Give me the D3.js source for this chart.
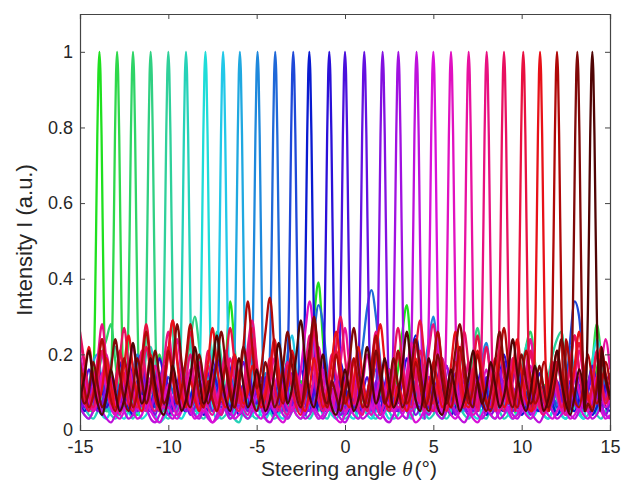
<!DOCTYPE html>
<html>
<head>
<meta charset="utf-8">
<script src="https://cdn.jsdelivr.net/npm/d3@7"></script>
<style>
    body { margin: 0; background: #fff; }
    text { font-family: "Liberation Sans", Arial, sans-serif; fill: #262626; }
</style>
</head>
<body>
<div id="chart"></div>
<script>

// peak position of each steered beam (deg) and its line colour
const peakAngles = [-13.9, -12.9, -12, -11, -10, -9, -7.9, -6.9, -5.95, -4.95, -3.95, -2.93, -2.02, -0.89, 0,
    1.09, 2.13, 3.02, 4.05, 5, 6, 7, 8.02, 9, 10.09, 11.04, 12, 13.15, 14];
const peakColors = ["#1fe01f", "#2ed84a", "#2ed466", "#30d082", "#2fd09a", "#26d2b8", "#1edcd8", "#22c8e8",
    "#1fa8e0", "#1e88dc", "#1f68d8", "#1e48d8", "#0a1ad0", "#2a10d8", "#4a10dc", "#6410e0", "#8210e0",
    "#a010e0", "#be10dc", "#d810d8", "#e010c0", "#e810a0", "#e81080", "#e81060", "#e81040", "#e81018",
    "#b00808", "#800808", "#500404"];

// main lobe shape, offset from peak (deg) -> normalised intensity
const lobeOffsets = [-0.45, -0.35, -0.25, -0.18, -0.12, -0.06, 0, 0.06, 0.12, 0.18, 0.25, 0.35, 0.45];
const lobeValues = [0.05, 0.12, 0.32, 0.56, 0.78, 0.94, 1, 0.94, 0.78, 0.56, 0.32, 0.12, 0.05];

// background (side lobe) level of each beam, sampled every 0.25 deg from -15 to 15
const floorStart = -15, floorStep = 0.25;
const floor00 = [.14,.10,.06,.05,.08,.06,.04,.07,.09,.05,.06, .08,.05,.04,.07,.10,.06,.05,.09,.12,.07,.05, .06,.10,.08,.05,.07,.11,.09,.06,.05,.08,.12, .18,.34,.22,.09,.06,.08,.05,.07,.10,.06,.05, .08,.11,.07,.05,.06,.09,.13,.10,.18,.30,.39, .24,.10,.06,.05,.08,.06,.04,.07,.09,.06,.05, .08,.06,.10,.07,.05,.09,.16,.26,.33,.20,.08, .05,.07,.10,.06,.05,.08,.06,.04,.07,.09,.06, .05,.08,.11,.07,.05,.06,.09,.07,.05,.08,.06, .04,.07,.10,.06,.05,.08,.12,.09,.06,.05,.07, .09,.06,.05,.08,.11,.07,.10,.16,.20,.14,.10];
const floor01 = [.12,.08,.05,.07,.10,.06,.05,.08,.06,.09,.07, .05,.06,.10,.08,.05,.07,.12,.20,.14,.07,.05, .08,.06,.05,.09,.07,.05,.06,.10,.08,.05,.07, .09,.06,.05,.08,.12,.07,.05,.06,.09,.06,.05, .07,.10,.06,.05,.08,.06,.11,.08,.05,.07,.09, .06,.05,.08,.12,.07,.05,.06,.09,.14,.10,.06, .05,.07,.09,.06,.05,.08,.10,.07,.05,.06,.09, .07,.05,.08,.11,.06,.05,.07,.10,.08,.05,.06, .09,.07,.05,.08,.13,.09,.06,.05,.07,.10,.06, .05,.08,.06,.05,.09,.12,.08,.05,.07,.06,.05, .08,.10,.07,.05,.09,.12,.18,.28,.20,.12,.08];
const floor02 = [.10,.07,.05,.09,.14,.20,.24,.28,.18,.09,.06, .05,.08,.06,.05,.07,.10,.08,.05,.06,.09,.07, .05,.08,.12,.09,.06,.05,.07,.06,.05,.08,.10, .07,.05,.06,.09,.08,.05,.07,.11,.08,.06,.05, .08,.06,.05,.07,.10,.07,.05,.06,.09,.12,.08, .05,.07,.06,.05,.08,.11,.07,.05,.06,.09,.07, .05,.08,.10,.06,.05,.07,.09,.06,.05,.08,.12, .09,.06,.05,.07,.10,.08,.05,.06,.09,.07,.05, .08,.11,.07,.05,.06,.10,.08,.05,.07,.09,.06, .05,.14,.22,.26,.18,.09,.06,.05,.08,.07,.05, .06,.09,.07,.05,.08,.10,.07,.05,.09,.12,.08];
const floor03 = [.08,.06,.05,.07,.10,.08,.05,.06,.09,.07,.05, .08,.12,.09,.06,.05,.07,.10,.06,.05,.08,.06, .05,.09,.16,.24,.30,.22,.12,.07,.05,.06,.09, .07,.05,.08,.06,.05,.10,.08,.05,.07,.09,.06, .05,.08,.11,.07,.05,.06,.09,.07,.05,.08,.10, .06,.05,.07,.09,.06,.05,.08,.12,.08,.05,.07, .06,.05,.09,.07,.05,.08,.10,.07,.05,.06,.09, .07,.05,.08,.06,.05,.07,.10,.08,.06,.05,.08, .12,.20,.27,.18,.09,.06,.05,.07,.10,.08,.05, .06,.09,.07,.05,.08,.06,.05,.07,.11,.08,.06, .05,.08,.10,.07,.05,.06,.09,.07,.05,.08,.10];
const floor04 = [.11,.08,.05,.07,.09,.06,.12,.18,.22,.15,.08, .05,.07,.10,.06,.05,.08,.06,.05,.09,.07,.05, .06,.08,.11,.07,.05,.06,.09,.14,.20,.26,.19, .10,.06,.05,.08,.07,.05,.06,.10,.08,.05,.07, .09,.06,.05,.08,.12,.08,.05,.06,.09,.07,.05, .08,.06,.05,.07,.10,.07,.05,.08,.11,.08,.06, .05,.07,.09,.06,.05,.08,.06,.05,.09,.12,.08, .05,.06,.10,.07,.05,.08,.09,.06,.05,.07,.11, .08,.05,.06,.09,.07,.05,.08,.10,.07,.05,.06, .09,.07,.05,.08,.06,.05,.10,.14,.20,.24,.26, .17,.09,.06,.05,.08,.07,.05,.06,.10,.08,.06];
const floor05 = [.09,.06,.04,.03,.05,.08,.06,.04,.03,.05,.07, .05,.03,.06,.12,.20,.22,.14,.06,.04,.03,.05, .07,.04,.03,.05,.06,.04,.03,.05,.08,.05,.03, .04,.06,.03,.02,.05,.07,.04,.03,.05,.08,.05, .03,.04,.06,.03,.05,.09,.06,.04,.03,.05,.07, .04,.03,.06,.08,.05,.03,.04,.06,.03,.05,.07, .04,.03,.05,.08,.05,.03,.04,.07,.05,.03,.06, .08,.05,.03,.04,.06,.04,.03,.05,.09,.06,.04, .03,.05,.07,.04,.03,.06,.08,.05,.03,.04,.06, .10,.16,.22,.24,.15,.07,.04,.03,.05,.07,.04, .03,.05,.08,.05,.03,.04,.06,.04,.03,.05,.07];
const floor06 = [.06,.04,.03,.05,.07,.04,.03,.05,.06,.04,.03, .05,.08,.05,.03,.04,.06,.04,.02,.03,.05,.07, .04,.03,.05,.06,.04,.03,.05,.07,.04,.03,.04, .06,.03,.05,.08,.05,.03,.04,.06,.04,.03,.05, .07,.04,.03,.05,.06,.04,.03,.05,.08,.05,.03, .04,.06,.04,.03,.05,.07,.04,.03,.05,.06,.04, .03,.05,.08,.05,.03,.04,.06,.04,.03,.05,.07, .04,.03,.05,.06,.04,.03,.05,.12,.18,.22,.14, .06,.04,.03,.05,.07,.04,.03,.05,.06,.04,.03, .05,.08,.05,.03,.04,.06,.04,.03,.05,.07,.04, .03,.05,.06,.04,.03,.10,.18,.24,.20,.12,.06];
const floor07 = [.10,.07,.05,.08,.06,.05,.09,.07,.05,.06,.10, .08,.05,.07,.09,.06,.05,.08,.11,.07,.05,.06, .09,.07,.05,.08,.06,.05,.07,.10,.08,.05,.06, .09,.07,.05,.08,.12,.08,.05,.07,.06,.05,.09, .07,.05,.12,.20,.25,.16,.08,.05,.06,.09,.07, .05,.08,.06,.05,.07,.10,.08,.05,.06,.09,.07, .05,.08,.11,.07,.05,.06,.09,.07,.05,.14,.22, .17,.08,.05,.07,.10,.08,.05,.06,.09,.07,.05, .08,.06,.05,.07,.11,.08,.05,.06,.09,.07,.05, .08,.10,.07,.05,.06,.09,.07,.05,.08,.06,.05, .07,.10,.08,.05,.06,.09,.07,.05,.08,.11,.08];
const floor08 = [.08,.06,.12,.18,.20,.12,.07,.05,.08,.06,.05, .07,.10,.07,.05,.06,.09,.07,.05,.08,.06,.05, .09,.07,.05,.08,.11,.07,.05,.06,.09,.07,.05, .08,.06,.05,.07,.10,.07,.05,.08,.06,.05,.09, .07,.05,.06,.10,.08,.05,.07,.09,.06,.05,.08, .11,.07,.05,.06,.09,.07,.05,.08,.06,.05,.07, .10,.07,.05,.08,.06,.05,.09,.07,.05,.06,.10, .08,.05,.07,.09,.06,.05,.08,.12,.08,.05,.06, .09,.07,.05,.08,.06,.05,.07,.10,.07,.05,.08, .06,.05,.09,.07,.05,.06,.10,.08,.05,.07,.14, .20,.22,.14,.08,.05,.07,.09,.06,.05,.08,.10];
const floor09 = [.12,.09,.06,.10,.14,.11,.07,.09,.13,.10,.07, .12,.16,.20,.14,.09,.11,.08,.12,.15,.10,.07, .09,.13,.10,.07,.11,.15,.12,.08,.10,.13,.09, .07,.11,.14,.10,.08,.12,.09,.07,.11,.15,.10, .08,.12,.09,.07,.10,.13,.09,.08,.12,.10,.07, .11,.14,.10,.08,.12,.09,.07,.10,.13,.10,.08, .12,.16,.11,.08,.10,.13,.09,.07,.11,.14,.10, .08,.16,.24,.30,.20,.11,.08,.12,.09,.07,.10, .14,.10,.08,.18,.23,.15,.09,.07,.11,.08,.07, .10,.13,.09,.08,.12,.10,.07,.11,.14,.10,.08, .12,.09,.07,.10,.13,.09,.08,.12,.15,.11,.09];
const floor10 = [.10,.08,.12,.09,.07,.11,.14,.10,.08,.12,.09, .07,.10,.13,.09,.08,.12,.10,.07,.11,.14,.10, .08,.12,.09,.07,.10,.13,.09,.08,.12,.10,.07, .11,.14,.10,.08,.12,.09,.07,.10,.13,.09,.08, .12,.10,.07,.11,.14,.10,.08,.12,.18,.26,.33, .28,.16,.10,.08,.12,.09,.07,.10,.14,.22,.32, .37,.30,.18,.10,.08,.12,.09,.07,.11,.14,.10, .08,.12,.09,.07,.10,.13,.09,.08,.12,.10,.07, .11,.14,.10,.08,.12,.09,.07,.10,.13,.09,.08, .12,.10,.07,.11,.14,.10,.08,.12,.09,.07,.10, .13,.09,.08,.12,.10,.07,.11,.14,.10,.08,.12];
const floor11 = [.09,.12,.08,.06,.10,.13,.09,.07,.11,.08,.06, .09,.13,.18,.20,.12,.08,.06,.10,.13,.09,.07, .11,.08,.06,.09,.12,.08,.07,.10,.13,.09,.06, .08,.11,.08,.06,.10,.13,.09,.07,.11,.08,.06, .09,.12,.08,.07,.10,.13,.09,.06,.08,.11,.08, .06,.10,.13,.09,.07,.11,.08,.06,.09,.12,.08, .07,.10,.13,.09,.06,.08,.11,.08,.06,.10,.13, .09,.07,.11,.08,.06,.09,.12,.08,.07,.10,.13, .09,.06,.08,.11,.08,.06,.10,.13,.09,.07,.11, .08,.06,.09,.12,.08,.07,.10,.13,.09,.06,.08, .11,.24,.34,.30,.16,.08,.06,.10,.13,.09,.07];
const floor12 = [.08,.05,.07,.10,.06,.04,.08,.11,.07,.05,.09, .06,.04,.07,.10,.06,.05,.08,.11,.07,.04,.06, .09,.06,.05,.08,.12,.07,.04,.06,.09,.06,.05, .08,.11,.07,.04,.06,.09,.06,.05,.08,.12,.07, .04,.06,.09,.06,.05,.08,.11,.07,.04,.06,.09, .06,.05,.08,.12,.07,.04,.06,.09,.06,.05,.08, .11,.07,.04,.06,.09,.06,.05,.08,.12,.20,.25, .18,.09,.06,.05,.08,.11,.07,.04,.06,.09,.06, .05,.08,.12,.07,.04,.06,.09,.06,.05,.08,.11, .07,.04,.06,.09,.06,.05,.08,.12,.07,.04,.06, .09,.06,.05,.08,.11,.07,.04,.06,.09,.06,.05];
const floor13 = [.14,.09,.07,.12,.17,.11,.06,.09,.13,.18,.12, .08,.06,.10,.15,.11,.07,.12,.19,.14,.08,.06, .09,.14,.10,.07,.13,.09,.06,.11,.16,.12,.07, .10,.15,.20,.13,.08,.06,.11,.09,.07,.12,.17, .12,.08,.13,.09,.06,.10,.16,.12,.07,.11,.14, .09,.06,.08,.13,.18,.12,.07,.10,.15,.10,.07, .12,.09,.06,.11,.16,.11,.08,.13,.19,.13,.08, .06,.10,.14,.09,.07,.12,.17,.11,.07,.09,.13, .10,.07,.12,.16,.11,.06,.09,.14,.20,.14,.08, .07,.11,.09,.06,.10,.15,.11,.08,.13,.18,.12, .07,.10,.14,.09,.06,.11,.16,.12,.08,.12,.15];
const floor14 = [.07,.11,.16,.12,.08,.06,.10,.14,.09,.07,.12, .18,.13,.08,.11,.07,.05,.09,.13,.17,.11,.07, .10,.15,.11,.06,.08,.12,.09,.07,.13,.19,.14, .09,.06,.10,.08,.12,.16,.11,.07,.09,.14,.10, .06,.08,.13,.18,.12,.08,.11,.07,.05,.10,.15, .11,.07,.12,.09,.06,.11,.17,.12,.08,.10,.14, .09,.06,.08,.12,.16,.11,.07,.13,.10,.07,.11, .15,.10,.06,.09,.14,.19,.13,.08,.11,.08,.06, .10,.15,.11,.07,.12,.17,.12,.08,.06,.09,.13, .18,.12,.07,.10,.14,.09,.06,.11,.16,.11,.07, .09,.13,.10,.06,.08,.12,.17,.12,.08,.10,.13];
const floor15 = [.10,.06,.09,.14,.10,.07,.12,.08,.05,.09,.13, .09,.06,.11,.16,.11,.07,.10,.14,.09,.06,.08, .12,.17,.12,.07,.09,.06,.10,.15,.10,.07,.12, .08,.05,.09,.13,.18,.12,.07,.10,.14,.09,.06, .11,.08,.06,.10,.15,.11,.07,.12,.17,.12,.08, .06,.09,.13,.09,.06,.11,.16,.11,.07,.09,.13, .19,.13,.08,.10,.07,.05,.09,.14,.10,.07,.12, .16,.11,.07,.09,.13,.09,.06,.11,.15,.10,.07, .12,.08,.05,.09,.14,.10,.07,.12,.18,.12,.08, .06,.10,.14,.10,.07,.11,.08,.05,.09,.13,.09, .06,.11,.16,.11,.07,.10,.14,.09,.06,.09,.12];
const floor16 = [.05,.08,.12,.08,.05,.07,.11,.07,.04,.06,.10, .14,.09,.05,.07,.10,.07,.04,.08,.12,.08,.05, .07,.11,.07,.04,.06,.09,.13,.09,.05,.07,.10, .07,.04,.08,.12,.08,.05,.07,.11,.07,.04,.06, .10,.14,.09,.05,.07,.10,.07,.04,.08,.12,.08, .05,.07,.11,.07,.04,.06,.09,.13,.09,.05,.07, .10,.07,.04,.08,.12,.08,.05,.07,.11,.07,.04, .06,.10,.14,.09,.05,.07,.10,.07,.04,.08,.12, .08,.05,.07,.11,.07,.04,.06,.09,.13,.09,.05, .07,.10,.07,.04,.08,.12,.08,.05,.07,.11,.07, .04,.06,.10,.14,.09,.05,.07,.10,.07,.04,.08];
const floor17 = [.09,.13,.08,.05,.07,.12,.16,.10,.06,.08,.11, .07,.05,.09,.14,.09,.06,.10,.15,.10,.06,.08, .12,.08,.05,.07,.11,.17,.11,.07,.09,.06,.04, .08,.13,.09,.06,.10,.14,.09,.05,.07,.11,.07, .05,.09,.15,.10,.06,.08,.12,.08,.05,.07,.11, .16,.11,.07,.09,.06,.04,.08,.13,.09,.06,.10, .14,.09,.05,.07,.12,.08,.05,.09,.15,.10,.06, .08,.11,.07,.05,.08,.13,.17,.11,.07,.09,.06, .04,.08,.12,.08,.05,.07,.11,.16,.10,.06,.08, .12,.08,.05,.09,.14,.09,.06,.10,.15,.10,.06, .08,.11,.07,.05,.07,.12,.16,.10,.07,.09,.12];
const floor18 = [.06,.04,.03,.05,.08,.05,.03,.02,.04,.07,.05, .03,.04,.06,.09,.06,.03,.02,.04,.06,.04,.03, .05,.08,.12,.07,.04,.03,.05,.03,.02,.04,.07, .05,.03,.04,.06,.04,.03,.05,.09,.06,.03,.02, .04,.06,.04,.03,.05,.07,.05,.03,.04,.06,.04, .03,.05,.08,.05,.03,.02,.04,.07,.05,.03,.04, .06,.10,.06,.03,.02,.04,.06,.04,.03,.05,.08, .05,.03,.04,.06,.04,.03,.05,.07,.05,.03,.02, .04,.06,.04,.03,.05,.09,.06,.03,.04,.06,.04, .03,.05,.08,.05,.03,.02,.04,.07,.05,.03,.04, .06,.04,.03,.05,.08,.05,.03,.04,.06,.04,.03];
const floor19 = [.10,.07,.05,.12,.18,.20,.12,.06,.04,.03,.05, .08,.05,.03,.04,.07,.05,.03,.02,.04,.06,.04, .03,.05,.08,.05,.03,.04,.06,.04,.02,.03,.05, .07,.05,.03,.04,.06,.09,.06,.04,.03,.05,.08, .05,.03,.02,.04,.06,.04,.03,.05,.08,.05,.03, .04,.07,.05,.03,.02,.04,.06,.04,.03,.05,.09, .06,.04,.03,.05,.07,.05,.03,.04,.06,.04,.02, .03,.05,.08,.05,.03,.04,.06,.04,.03,.05,.07, .05,.03,.02,.04,.06,.04,.03,.05,.08,.05,.03, .04,.06,.04,.03,.05,.09,.06,.04,.03,.05,.07, .05,.03,.04,.06,.04,.03,.05,.08,.05,.03,.04];
const floor20 = [.20,.14,.08,.05,.09,.15,.11,.06,.04,.08,.13, .17,.11,.06,.05,.09,.14,.10,.06,.08,.12,.07, .04,.06,.11,.16,.10,.06,.05,.09,.13,.08,.05, .07,.12,.17,.11,.06,.04,.08,.13,.09,.05,.07, .11,.15,.10,.06,.05,.09,.16,.26,.34,.24,.12, .07,.05,.08,.13,.09,.05,.07,.12,.17,.11,.06, .04,.08,.14,.10,.06,.05,.09,.13,.08,.05,.07, .11,.16,.10,.06,.05,.09,.14,.10,.06,.08,.12, .07,.04,.06,.11,.16,.10,.06,.05,.09,.13,.08, .05,.07,.12,.17,.11,.06,.04,.08,.13,.09,.05, .07,.11,.15,.10,.06,.05,.09,.14,.10,.06,.08];
const floor21 = [.24,.17,.09,.05,.08,.14,.20,.13,.07,.04,.09, .15,.22,.14,.07,.05,.10,.17,.11,.06,.09,.16, .24,.15,.08,.05,.11,.18,.12,.06,.04,.08,.14, .21,.14,.07,.05,.10,.16,.24,.15,.08,.06,.12, .19,.12,.06,.04,.09,.15,.10,.05,.08,.14,.22, .14,.07,.05,.11,.18,.27,.17,.09,.06,.12,.20, .13,.07,.04,.09,.16,.11,.06,.08,.15,.23,.15, .08,.05,.10,.17,.26,.16,.08,.06,.12,.19,.12, .06,.04,.09,.15,.22,.14,.07,.05,.11,.17,.11, .06,.09,.16,.24,.15,.08,.05,.10,.18,.12,.06, .04,.08,.14,.21,.14,.07,.05,.11,.17,.24,.16];
const floor22 = [.16,.10,.06,.11,.19,.28,.18,.09,.05,.08,.15, .10,.06,.12,.21,.14,.07,.05,.10,.18,.26,.16, .08,.06,.13,.20,.12,.06,.09,.17,.11,.06,.04, .10,.19,.13,.07,.11,.22,.29,.18,.09,.06,.12, .08,.05,.10,.18,.12,.06,.09,.16,.25,.16,.08, .05,.11,.20,.14,.07,.12,.19,.12,.06,.04,.09, .17,.26,.17,.08,.06,.13,.09,.05,.10,.19,.13, .07,.11,.21,.28,.18,.09,.06,.12,.08,.05,.10, .18,.12,.06,.09,.16,.23,.15,.08,.05,.11,.19, .13,.07,.12,.20,.13,.06,.04,.09,.17,.11,.06, .10,.18,.25,.16,.08,.06,.12,.20,.13,.07,.10];
const floor23 = [.26,.18,.10,.06,.12,.21,.14,.07,.10,.19,.27, .17,.09,.06,.13,.22,.15,.08,.05,.11,.20,.29, .19,.10,.07,.14,.09,.05,.12,.21,.14,.07,.11, .20,.13,.07,.05,.10,.18,.27,.17,.09,.06,.13, .23,.15,.08,.12,.20,.13,.06,.09,.17,.26,.17, .09,.06,.13,.22,.30,.19,.10,.07,.14,.09,.05, .11,.20,.13,.07,.10,.18,.27,.18,.09,.06,.12, .21,.14,.07,.05,.11,.19,.12,.06,.10,.18,.26, .17,.09,.06,.13,.22,.14,.07,.11,.20,.29,.19, .10,.07,.13,.21,.14,.07,.05,.10,.18,.12,.06, .09,.17,.25,.16,.08,.06,.12,.21,.14,.08,.12];
const floor24 = [.14,.08,.05,.10,.17,.24,.15,.08,.12,.21,.14, .07,.05,.11,.19,.28,.18,.09,.06,.13,.22,.14, .07,.10,.18,.26,.17,.09,.06,.12,.08,.05,.10, .18,.27,.18,.09,.06,.13,.22,.14,.07,.11,.19, .12,.06,.09,.17,.11,.06,.04,.10,.18,.28,.18, .09,.06,.13,.21,.14,.07,.10,.18,.12,.06,.09, .16,.24,.16,.08,.05,.11,.20,.13,.07,.12,.21, .29,.19,.10,.07,.13,.09,.05,.10,.18,.12,.06, .09,.16,.25,.16,.08,.06,.13,.21,.14,.07,.11, .19,.27,.17,.09,.06,.12,.08,.05,.10,.18,.12, .06,.09,.16,.23,.15,.08,.12,.20,.13,.07,.10];
const floor25 = [.09,.15,.22,.14,.07,.11,.19,.12,.06,.09,.17, .25,.16,.08,.05,.11,.20,.13,.07,.12,.21,.29, .18,.09,.06,.13,.08,.05,.10,.18,.27,.17,.09, .06,.12,.20,.13,.07,.10,.17,.11,.06,.09,.16, .24,.16,.08,.12,.21,.14,.07,.05,.11,.19,.12, .06,.10,.18,.26,.17,.09,.06,.13,.22,.14,.07, .11,.20,.28,.18,.09,.06,.12,.08,.05,.10,.19, .13,.07,.11,.18,.12,.06,.09,.17,.26,.17,.08, .06,.12,.21,.14,.07,.10,.19,.12,.06,.09,.16, .24,.15,.08,.05,.11,.20,.13,.07,.12,.21,.14, .07,.10,.17,.26,.17,.09,.06,.13,.22,.15,.09];
const floor26 = [.18,.11,.06,.09,.16,.24,.15,.08,.05,.11,.19, .12,.06,.10,.18,.26,.17,.09,.06,.12,.21,.14, .07,.11,.19,.28,.18,.09,.06,.13,.08,.05,.10, .17,.11,.06,.12,.22,.34,.22,.11,.16,.26,.35, .22,.11,.07,.13,.20,.13,.07,.10,.18,.29,.19, .10,.06,.12,.20,.13,.07,.11,.19,.12,.06,.09, .17,.25,.16,.08,.06,.12,.21,.14,.07,.10,.18, .12,.06,.09,.17,.26,.17,.09,.06,.13,.22,.14, .07,.11,.20,.13,.07,.05,.10,.18,.27,.17,.09, .06,.12,.21,.14,.07,.10,.18,.12,.06,.09,.16, .24,.16,.08,.06,.12,.20,.13,.07,.11,.18,.12];
const floor27 = [.12,.07,.10,.18,.12,.06,.09,.16,.24,.15,.08, .05,.11,.19,.13,.07,.12,.21,.14,.07,.10,.17, .28,.18,.09,.06,.12,.20,.13,.07,.11,.18,.26, .17,.09,.06,.13,.22,.15,.08,.05,.10,.18,.12, .06,.09,.17,.26,.17,.09,.06,.13,.22,.30,.19, .10,.07,.13,.09,.05,.10,.18,.27,.17,.09,.06, .12,.21,.14,.07,.11,.19,.12,.06,.09,.16,.24, .16,.08,.05,.11,.20,.13,.07,.12,.21,.28,.18, .09,.06,.13,.08,.05,.10,.18,.26,.17,.09,.06, .12,.20,.13,.07,.10,.17,.11,.06,.09,.16,.24, .16,.08,.12,.21,.14,.07,.05,.11,.19,.13,.08];
const floor28 = [.08,.14,.21,.13,.07,.04,.09,.16,.10,.05,.08, .15,.23,.14,.07,.11,.19,.12,.06,.04,.09,.17, .11,.05,.08,.14,.22,.14,.07,.10,.17,.25,.15, .08,.05,.11,.19,.12,.06,.09,.16,.10,.05,.08, .15,.23,.15,.07,.11,.20,.29,.18,.09,.06,.12, .20,.12,.06,.04,.09,.16,.10,.05,.08,.14,.22, .14,.07,.11,.19,.12,.06,.09,.17,.26,.16,.08, .05,.11,.19,.12,.06,.04,.09,.16,.10,.05,.08, .14,.21,.13,.07,.11,.18,.12,.06,.09,.16,.24, .15,.08,.05,.10,.17,.11,.05,.08,.14,.21,.13, .07,.04,.09,.16,.10,.05,.08,.15,.22,.14,.09];

const floorRows = [floor00, floor01, floor02, floor03, floor04, floor05, floor06, floor07, floor08, floor09,
    floor10, floor11, floor12, floor13, floor14, floor15, floor16, floor17, floor18, floor19,
    floor20, floor21, floor22, floor23, floor24, floor25, floor26, floor27, floor28];

const xTicks = [-15, -10, -5, 0, 5, 10, 15];
const yTicks = [0, 0.2, 0.4, 0.6, 0.8, 1];

// ---- layout ----
const margin = {top: 14, right: 12, bottom: 58, left: 80};
const outerW = 622, outerH = 488;
const width = outerW - margin.left - margin.right;
const height = outerH - margin.top - margin.bottom;

const svg = d3.select("#chart").append("svg")
    .attr("width", outerW)
    .attr("height", outerH);

const g = svg.append("g")
    .attr("transform", `translate(${margin.left}, ${margin.top})`);

const x = d3.scaleLinear().domain([-15, 15]).range([0, width]);
const y = d3.scaleLinear().domain([0, 1.1]).range([height, 0]);

g.append("clipPath").attr("id", "plotClip")
    .append("rect").attr("width", width).attr("height", height);

// build each beam: background samples outside the main lobe + the main lobe
function beamPoints(i) {
    let p = peakAngles[i];
    let pts = [];
    floorRows[i].forEach((v, k) => {
        let xv = floorStart + k * floorStep;
        if (xv <= 15 && Math.abs(xv - p) > 0.45) pts.push({x: xv, y: v});
    });
    lobeOffsets.forEach((o, k) => pts.push({x: p + o, y: lobeValues[k]}));
    pts.sort((a, b) => a.x - b.x);
    return pts;
}

const line = d3.line()
    .x(d => x(d.x))
    .y(d => y(d.y))
    .curve(d3.curveMonotoneX);

g.append("g")
    .attr("clip-path", "url(#plotClip)")
    .selectAll("path")
    .data(peakAngles.map((p, i) => i))
    .join("path")
    .attr("d", i => line(beamPoints(i)))
    .attr("fill", "none")
    .attr("stroke", i => peakColors[i])
    .attr("stroke-width", 2.3)
    .attr("stroke-linejoin", "round");

// ---- axes (box with inward ticks) ----
const axisColor = "#444";

const xAxis = d3.axisBottom(x).tickValues(xTicks).tickSize(-5).tickPadding(10).tickFormat(d => d);
const yAxis = d3.axisLeft(y).tickValues(yTicks).tickSize(-5).tickPadding(7).tickFormat(d => d);

const gx = g.append("g").attr("transform", `translate(0, ${height})`).call(xAxis);
const gy = g.append("g").call(yAxis);
const gt = g.append("g").call(d3.axisTop(x).tickValues(xTicks).tickSize(-5).tickFormat(""));
const gr = g.append("g").attr("transform", `translate(${width}, 0)`)
    .call(d3.axisRight(y).tickValues(yTicks).tickSize(-5).tickFormat(""));

[gx, gy, gt, gr].forEach(a => {
    a.select(".domain").attr("stroke", axisColor).attr("stroke-width", 1.2);
    a.selectAll(".tick line").attr("stroke", axisColor);
    a.selectAll("text").attr("font-size", 18).attr("fill", "#262626")
        .attr("font-family", "Liberation Sans, Arial, sans-serif");
});

// axis labels
svg.append("text")
    .attr("transform", "translate(32, 240) rotate(-90)")
    .attr("text-anchor", "middle")
    .attr("font-size", 22)
    .text("Intensity I (a.u.)");

const xl = svg.append("text")
    .attr("x", 349)
    .attr("y", 476)
    .attr("text-anchor", "middle")
    .attr("font-size", 21);
xl.append("tspan").text("Steering angle ");
xl.append("tspan").attr("font-style", "italic").attr("font-family", "Liberation Serif, serif").text("θ");
xl.append("tspan").attr("dx", 2).text("(°)");

</script>
</body>
</html>
